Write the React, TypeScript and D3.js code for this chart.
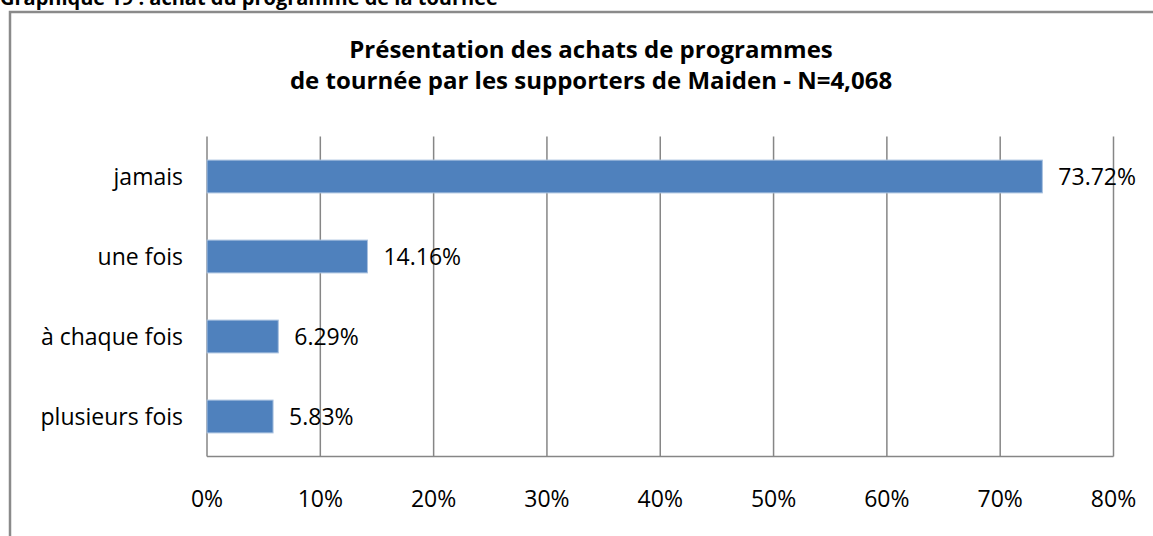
import { useEffect, useRef } from "react";
import * as d3 from "d3";

const categories = ["jamais", "une fois", "à chaque fois", "plusieurs fois"];
const values = [73.72, 14.16, 6.29, 5.83];
const ticks = [0, 10, 20, 30, 40, 50, 60, 70, 80];
const titleLines = [
  "Présentation des achats de programmes",
  "de tournée par les supporters de Maiden - N=4,068",
];
const heading = "Graphique 19 : achat du programme de la tournée";

const App = () => {
  const ref = useRef<SVGSVGElement>(null);

  useEffect(() => {
    document.body.style.margin = "0";
    const width = 1153;
    const height = 536;
    const font = "'Open Sans', Lato, sans-serif";

    const svg = d3.select(ref.current);
    svg.selectAll("*").remove();
    svg.attr("width", width).attr("height", height).style("display", "block");

    svg.append("rect")
      .attr("width", width)
      .attr("height", height)
      .attr("fill", "white");

    // outer chart frame (cut at right and bottom)
    svg.append("rect")
      .attr("x", 10)
      .attr("y", 12)
      .attr("width", width + 20)
      .attr("height", height + 20)
      .attr("fill", "white")
      .attr("stroke", "#8a8a8a")
      .attr("stroke-width", 2.5);

    svg.append("text")
      .attr("x", 0)
      .attr("y", 5)
      .attr("font-family", font)
      .attr("font-weight", "bold")
      .attr("font-size", 20)
      .attr("fill", "#000")
      .text(heading);

    svg.append("g")
        .attr("font-family", font)
        .attr("font-weight", "bold")
        .attr("font-size", 24)
        .attr("text-anchor", "middle")
      .selectAll()
      .data(titleLines)
      .join("text")
        .attr("x", 591)
        .attr("y", (d, i) => 58 + i * 31)
        .text((d) => d);

    const x = d3.scaleLinear().domain([0, 80]).range([207, 1113.5]);
    const y = d3.scaleBand()
      .domain(categories)
      .range([136.5, 456.5])
      .paddingInner(0.59)
      .paddingOuter(0.295);

    // gridlines
    svg.append("g")
      .selectAll()
      .data(ticks)
      .join("line")
        .attr("x1", (d) => x(d))
        .attr("x2", (d) => x(d))
        .attr("y1", 136.5)
        .attr("y2", 456.5)
        .attr("stroke", "#868686")
        .attr("stroke-width", 1.5);

    svg.append("line")
      .attr("x1", x(0))
      .attr("x2", x(80))
      .attr("y1", 456.5)
      .attr("y2", 456.5)
      .attr("stroke", "#868686")
      .attr("stroke-width", 1.5);

    svg.append("g")
      .selectAll()
      .data(values)
      .join("rect")
        .attr("x", x(0))
        .attr("y", (d, i) => y(categories[i])!)
        .attr("width", (d) => x(d) - x(0))
        .attr("height", y.bandwidth())
        .attr("fill", "#4f81bd")
        .attr("stroke", "#a9c1df")
        .attr("stroke-width", 1);

    svg.append("g")
        .attr("font-family", font)
        .attr("font-size", 23)
        .attr("fill", "#000")
      .selectAll()
      .data(values)
      .join("text")
        .attr("x", (d) => x(d) + 16)
        .attr("y", (d, i) => y(categories[i])! + y.bandwidth() / 2 + 8)
        .text((d) => d.toFixed(2) + "%");

    svg.append("g")
        .attr("font-family", font)
        .attr("font-size", 23)
        .attr("text-anchor", "end")
      .selectAll()
      .data(categories)
      .join("text")
        .attr("x", 183)
        .attr("y", (d) => y(d)! + y.bandwidth() / 2 + 8)
        .text((d) => d);

    svg.append("g")
        .attr("font-family", font)
        .attr("font-size", 23)
        .attr("text-anchor", "middle")
      .selectAll()
      .data(ticks)
      .join("text")
        .attr("x", (d) => x(d))
        .attr("y", 507)
        .text((d) => d + "%");
  }, []);

  return <svg ref={ref}></svg>;
};

export default App;
